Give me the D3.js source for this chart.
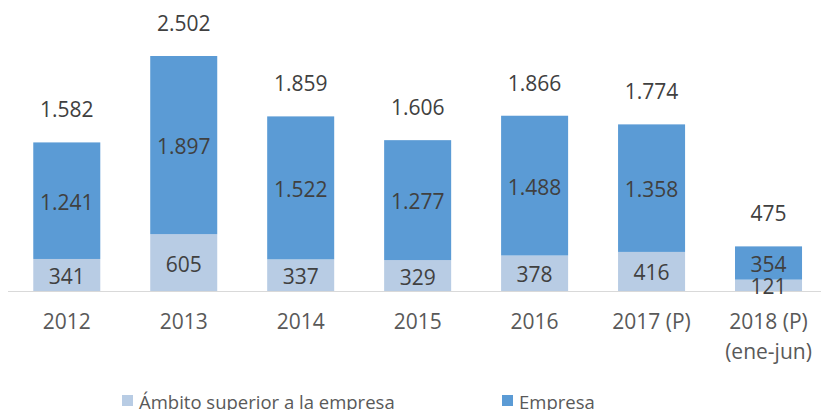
<!DOCTYPE html>
<html>
<head>
<meta charset="utf-8">
<script src="https://cdn.jsdelivr.net/npm/d3@7"></script>
<style>
  html, body { margin: 0; padding: 0; background: #ffffff; }
  svg { display: block; }
  text { font-family: "Open Sans", "Noto Sans", sans-serif; }
</style>
</head>
<body>
<svg id="chart" width="821" height="410"></svg>
<script>
const categories = ["2012", "2013", "2014", "2015", "2016", "2017 (P)", "2018 (P)|(ene-jun)"];
const ambito = [341, 605, 337, 329, 378, 416, 121];
const empresa = [1241, 1897, 1522, 1277, 1488, 1358, 354];
const totals = [1582, 2502, 1859, 1606, 1866, 1774, 475];
const seriesNames = ["Ámbito superior a la empresa", "Empresa"];
const colors = ["#b8cce4", "#5b9bd5"];

const fmt = v => d3.format(",")(v).replace(/,/g, ".");

const svg = d3.select("#chart");
const baseY = 291;

const x = d3.scaleBand()
  .domain(categories)
  .range([8.3, 827])
  .paddingInner(0.427)
  .paddingOuter(0.2135);

const y = d3.scaleLinear()
  .domain([0, 2502])
  .range([baseY, 56]);

const rows = categories.map((c, i) => ({ cat: c, ambito: ambito[i], empresa: empresa[i], total: totals[i] }));
const stack = d3.stack().keys(["ambito", "empresa"])(rows);

// bars
stack.forEach((layer, li) => {
  svg.append("g")
    .selectAll("rect")
    .data(layer)
    .join("rect")
    .attr("x", d => x(d.data.cat))
    .attr("width", x.bandwidth())
    .attr("y", d => y(d[1]))
    .attr("height", d => y(d[0]) - y(d[1]))
    .attr("fill", colors[li]);
});

// axis line
svg.append("line")
  .attr("x1", 8).attr("x2", 821)
  .attr("y1", baseY + 0.5).attr("y2", baseY + 0.5)
  .attr("stroke", "#d9d9d9").attr("stroke-width", 1);

// segment labels
stack.forEach((layer) => {
  svg.append("g")
    .selectAll("text")
    .data(layer)
    .join("text")
    .attr("x", d => x(d.data.cat) + x.bandwidth() / 2)
    .attr("y", d => (y(d[0]) + y(d[1])) / 2 + 1)
    .attr("text-anchor", "middle")
    .attr("dominant-baseline", "central")
    .attr("font-size", 21)
    .attr("fill", "#404040")
    .text(d => fmt(d[1] - d[0]));
});

// total labels
svg.append("g")
  .selectAll("text")
  .data(rows)
  .join("text")
  .attr("x", d => x(d.cat) + x.bandwidth() / 2)
  .attr("y", d => y(d.total) - 33)
  .attr("text-anchor", "middle")
  .attr("dominant-baseline", "central")
  .attr("font-size", 21)
  .attr("fill", "#404040")
  .text(d => fmt(d.total));

// x tick labels
const tick = svg.append("g")
  .selectAll("text")
  .data(categories)
  .join("text")
  .attr("x", d => x(d) + x.bandwidth() / 2)
  .attr("y", 321)
  .attr("text-anchor", "middle")
  .attr("dominant-baseline", "central")
  .attr("font-size", 21)
  .attr("fill", "#595959");
tick.each(function(d) {
  const parts = d.split("|");
  const t = d3.select(this);
  parts.forEach((p, i) => {
    t.append("tspan")
      .attr("x", x(d) + x.bandwidth() / 2)
      .attr("dy", i === 0 ? 0 : 30)
      .text(p);
  });
});

// legend
const legendX = [122, 502];
const lg = svg.append("g");
seriesNames.forEach((name, i) => {
  lg.append("rect")
    .attr("x", legendX[i]).attr("y", 395)
    .attr("width", 11).attr("height", 11)
    .attr("fill", colors[i]);
  lg.append("text")
    .attr("x", legendX[i] + 17).attr("y", 401)
    .attr("dominant-baseline", "central")
    .attr("font-size", 18.5)
    .attr("fill", "#595959")
    .text(name);
});
</script>
</body>
</html>
